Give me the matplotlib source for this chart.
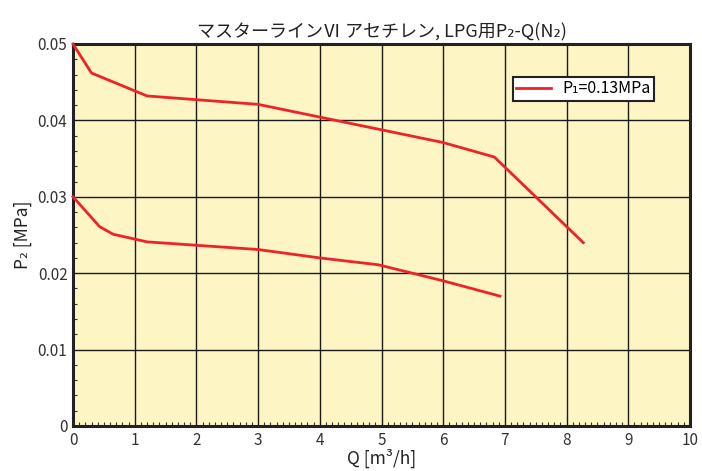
import matplotlib
matplotlib.use("Agg")
import matplotlib.pyplot as plt
from matplotlib.ticker import MultipleLocator

plt.rcParams['font.family'] = ['Noto Sans CJK JP', 'DejaVu Sans']

title = "マスターラインⅥ アセチレン, LPG用P₂-Q(N₂)"
xlabel = "Q [m³/h]"
ylabel = "P₂ [MPa]"
legend_label = "P₁=0.13MPa"

# upper curve
q_upper = [0.0, 0.3, 1.2, 3.0, 6.0, 6.83, 8.27]
p_upper = [0.050, 0.0462, 0.0432, 0.0421, 0.0371, 0.0352, 0.0240]
# lower curve
q_lower = [0.0, 0.43, 0.65, 1.2, 3.0, 4.0, 4.95, 6.0, 6.92]
p_lower = [0.030, 0.0261, 0.0251, 0.0241, 0.0231, 0.0220, 0.0211, 0.0190, 0.0170]

xticks = [0, 1, 2, 3, 4, 5, 6, 7, 8, 9, 10]
yticks = [0, 0.01, 0.02, 0.03, 0.04, 0.05]
ytick_labels = ["0", "0.01", "0.02", "0.03", "0.04", "0.05"]

fig = plt.figure(figsize=(7.02, 4.71), dpi=100)
ax = fig.add_axes([73/702, 1-426/471, 617/702, 382/471])
ax.set_facecolor('#FDF5C4')

red = '#EE2228'
ax.plot(q_upper, p_upper, color=red, lw=2.0, label=legend_label, zorder=3, clip_on=False)
ax.plot(q_lower, p_lower, color=red, lw=2.0, zorder=3, clip_on=False)

ax.set_xlim(0, 10)
ax.set_ylim(0, 0.05)
ax.set_xticks(xticks)
ax.set_xticklabels([str(t) for t in xticks])
ax.set_yticks(yticks)
ax.set_yticklabels(ytick_labels)
ax.xaxis.set_minor_locator(MultipleLocator(0.1))
ax.yaxis.set_minor_locator(MultipleLocator(0.002))
ax.grid(True, which='major', color='#1a1a1a', lw=1.0)
ax.set_axisbelow(True)
ax.tick_params(which='both', direction='in', colors='#333333', labelcolor='#333333', labelsize=11)
ax.tick_params(which='major', length=0, pad=4)
ax.tick_params(which='minor', length=3, width=0.8)
ax.tick_params(axis='x', which='minor', top=False)
for s in ax.spines.values():
    s.set_linewidth(2.2)
    s.set_color('#222222')

ax.set_title(title, fontsize=13, color='#222222', pad=5)
ax.set_xlabel(xlabel, fontsize=12.5, color='#222222', labelpad=0)
ax.set_ylabel(ylabel, fontsize=12.5, color='#222222', labelpad=4)

leg = ax.legend(loc='upper right', bbox_to_anchor=(0.942, 0.914), fontsize=11.5,
                frameon=True, fancybox=False, handlelength=2.2, borderpad=0.22,
                handletextpad=0.7, borderaxespad=0)
leg.get_frame().set_edgecolor('#222222')
leg.get_frame().set_linewidth(1.5)
leg.get_frame().set_facecolor('white')
leg.get_frame().set_alpha(1)

fig.savefig('out.png', dpi=100)
